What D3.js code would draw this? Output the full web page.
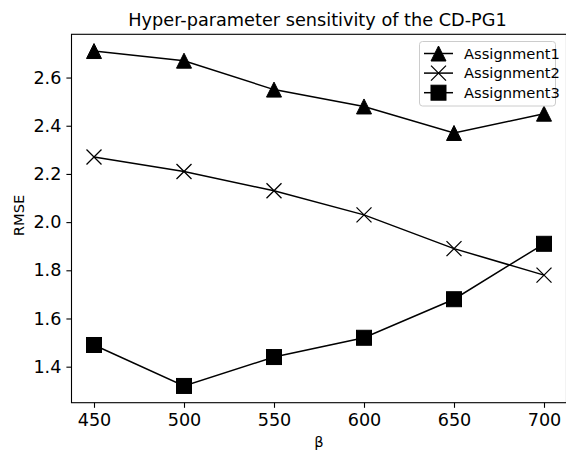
<!DOCTYPE html>
<html>
<head>
<meta charset="utf-8">
<script src="https://cdn.jsdelivr.net/npm/d3@7"></script>
<style>
  body { margin: 0; background: #fff; }
  svg { display: block; font-family: "DejaVu Sans", sans-serif; }
</style>
</head>
<body>
<div id="chart"></div>
<script>
var betas = [450, 500, 550, 600, 650, 700];
var assignment1 = [2.71, 2.67, 2.55, 2.48, 2.37, 2.45];
var assignment2 = [2.27, 2.21, 2.13, 2.03, 1.89, 1.78];
var assignment3 = [1.49, 1.32, 1.44, 1.52, 1.68, 1.91];
var seriesNames = ['Assignment1', 'Assignment2', 'Assignment3'];
var markerKinds = ['triangle', 'cross', 'square'];
var xTicks = [450, 500, 550, 600, 650, 700];
var yTicks = [1.4, 1.6, 1.8, 2.0, 2.2, 2.4, 2.6];

(function() {
  var width = 566, height = 453;
  var left = 71.5, right = 566.5, top = 34.3, bottom = 402.7;
  var msize = 15;

  var allValues = assignment1.concat(assignment2, assignment3);
  var yMin = d3.min(allValues), yMax = d3.max(allValues);
  var yPad = (yMax - yMin) * 0.05;
  var xPad = (d3.max(betas) - d3.min(betas)) * 0.05;

  var x = d3.scaleLinear().domain([d3.min(betas) - xPad, d3.max(betas) + xPad]).range([left, right]);
  var y = d3.scaleLinear().domain([yMin - yPad, yMax + yPad]).range([bottom, top]);

  var svg = d3.select('#chart').append('svg').attr('width', width).attr('height', height);

  var series = [assignment1, assignment2, assignment3].map(function(vals, i) {
    return { name: seriesNames[i], kind: markerKinds[i], points: vals.map(function(v, j) { return [betas[j], v]; }) };
  });

  var drawMarker = function(g, kind, s) {
    var h = s / 2;
    if (kind === 'triangle') {
      g.append('path').attr('d', 'M0,' + (-h) + 'L' + (-h) + ',' + h + 'L' + h + ',' + h + 'Z')
        .attr('fill', '#000').attr('stroke', '#000').attr('stroke-width', 1).attr('stroke-linejoin', 'miter');
    } else if (kind === 'square') {
      g.append('rect').attr('x', -h).attr('y', -h).attr('width', s).attr('height', s)
        .attr('fill', '#000').attr('stroke', '#000').attr('stroke-width', 1);
    } else {
      g.append('path').attr('d', 'M' + (-h) + ',' + (-h) + 'L' + h + ',' + h + 'M' + (-h) + ',' + h + 'L' + h + ',' + (-h))
        .attr('fill', 'none').attr('stroke', '#000').attr('stroke-width', 1.3);
    }
  };

  var plot = svg.append('g');
  var line = d3.line().x(function(d) { return x(d[0]); }).y(function(d) { return y(d[1]); });

  series.forEach(function(s) {
    plot.append('path').attr('d', line(s.points)).attr('fill', 'none')
      .attr('stroke', '#000').attr('stroke-width', 1.5);
    s.points.forEach(function(p) {
      var g = plot.append('g').attr('transform', 'translate(' + x(p[0]) + ',' + y(p[1]) + ')');
      drawMarker(g, s.kind, msize);
    });
  });

  // axes
  var xAxis = d3.axisBottom(x).tickValues(xTicks).tickSize(5.1).tickPadding(5.5).tickFormat(d3.format('d'));
  var yAxis = d3.axisLeft(y).tickValues(yTicks).tickSize(5.1).tickPadding(5).tickFormat(d3.format('.1f'));

  var gx = svg.append('g').attr('transform', 'translate(0,' + bottom + ')').call(xAxis);
  var gy = svg.append('g').attr('transform', 'translate(' + left + ',0)').call(yAxis);
  [gx, gy].forEach(function(g) {
    g.select('.domain').remove();
    g.selectAll('.tick line').attr('stroke', '#000').attr('stroke-width', 1.1);
    g.selectAll('.tick text').attr('fill', '#000').attr('font-size', 17.6)
      .attr('font-family', '"DejaVu Sans", sans-serif');
  });

  // spines
  svg.append('rect').attr('x', left).attr('y', top).attr('width', right - left).attr('height', bottom - top)
    .attr('fill', 'none').attr('stroke', '#000').attr('stroke-width', 1.1);

  // title and labels
  svg.append('text').attr('x', (left + right) / 2 - 1.5).attr('y', 26).attr('text-anchor', 'middle')
    .attr('font-size', 17.7).text('Hyper-parameter sensitivity of the CD-PG1');
  svg.append('text').attr('x', (left + right) / 2).attr('y', 447).attr('text-anchor', 'middle')
    .attr('font-size', 14.7).text('β');
  svg.append('text').attr('transform', 'translate(23.5,' + ((top + bottom) / 2 - 3) + ')rotate(-90)')
    .attr('text-anchor', 'middle').attr('font-size', 14.7).text('RMSE');

  // legend
  var leg = svg.append('g').attr('transform', 'translate(419.5,41.5)');
  leg.append('rect').attr('width', 136).attr('height', 64.5).attr('rx', 3)
    .attr('fill', '#fff').attr('fill-opacity', 0.8).attr('stroke', '#ccc').attr('stroke-width', 1);
  series.forEach(function(s, i) {
    var row = leg.append('g').attr('transform', 'translate(0,' + (12 + i * 19.6) + ')');
    row.append('line').attr('x1', 4.5).attr('x2', 33.5).attr('stroke', '#000').attr('stroke-width', 1.5);
    drawMarker(row.append('g').attr('transform', 'translate(19,0)'), s.kind, msize);
    row.append('text').attr('x', 44.5).attr('dy', '0.35em').attr('font-size', 14.7).text(s.name);
  });
})();
</script>
</body>
</html>
